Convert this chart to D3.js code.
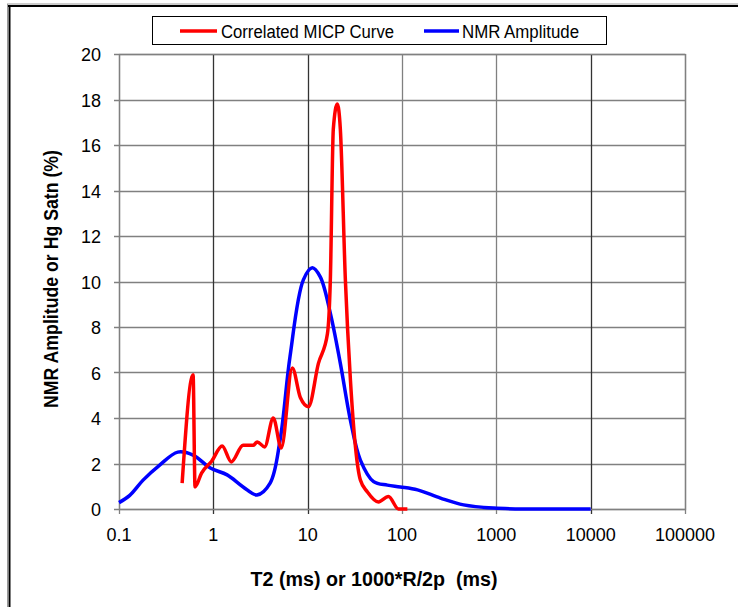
<!DOCTYPE html>
<html>
<head>
<meta charset="utf-8">
<script src="https://cdn.jsdelivr.net/npm/d3@7"></script>
<style>
  body { margin: 0; background: #fff; }
  text { font-family: "Liberation Sans", Arial, sans-serif; }
</style>
</head>
<body>
<svg id="chart" width="738" height="607"></svg>
<script>
// NMR amplitude (blue): T2 in ms, amplitude in %
const nmrT = [0.1, 0.13, 0.18, 0.27, 0.42, 0.61, 0.93, 1.4, 2.07, 2.9, 4.0, 5.1, 6.5, 9.0, 11.2, 13.6, 17.4, 22.2, 28.4, 36.2, 50, 70, 96, 146, 256, 450, 940, 2300, 10000];
const nmrAmp = [0.28, 0.6, 1.27, 1.93, 2.5, 2.37, 1.8, 1.5, 0.97, 0.62, 1.14, 3.03, 6.7, 10.07, 10.6, 10.2, 8.6, 6.4, 3.9, 2.15, 1.2, 1.05, 0.97, 0.84, 0.48, 0.18, 0.04, 0, 0];

// correlated MICP curve (red)
const micpT = [0.467, 0.61, 0.64, 0.75, 0.96, 1.24, 1.55, 2.07, 2.65, 2.92, 3.5, 4.32, 5.25, 6.87, 8.36, 10.2, 13.0, 16.2, 17.4, 18.7, 20.6, 22.2, 25.1, 28.4, 32.1, 36.2, 43, 56.3, 71.9, 91.8, 114];
const micpHg = [1.14, 5.9, 0.97, 1.58, 2.1, 2.77, 2.07, 2.8, 2.8, 2.95, 2.73, 4.0, 2.68, 6.2, 4.9, 4.5, 6.4, 7.7, 10.1, 16.7, 17.8, 16.7, 10.07, 5.67, 2.73, 1.27, 0.75, 0.31, 0.55, 0, 0];

const xTicks = [0.1, 1, 10, 100, 1000, 10000, 100000];
const yTicks = [0, 2, 4, 6, 8, 10, 12, 14, 16, 18, 20];

const svg = d3.select("#chart");

// outer frame
svg.append("line").attr("x1", 7).attr("y1", 4).attr("x2", 738).attr("y2", 4).attr("stroke", "#999").attr("stroke-width", 1);
svg.append("line").attr("x1", 8).attr("y1", 6).attr("x2", 738).attr("y2", 6).attr("stroke", "#000").attr("stroke-width", 2);
svg.append("line").attr("x1", 7.5).attr("y1", 4).attr("x2", 7.5).attr("y2", 607).attr("stroke", "#999").attr("stroke-width", 1);
svg.append("line").attr("x1", 9.5).attr("y1", 6).attr("x2", 9.5).attr("y2", 607).attr("stroke", "#000").attr("stroke-width", 2);

const plotLeft = 119, plotRight = 685, plotTop = 54, plotBottom = 509;

const x = d3.scaleLog().domain([0.1, 100000]).range([plotLeft, plotRight]);
const y = d3.scaleLinear().domain([0, 20]).range([plotBottom, plotTop]);

// grid
svg.append("g").selectAll("line.h")
    .data(yTicks)
    .enter()
    .append("line")
    .attr("x1", plotLeft - 5).attr("x2", plotRight)
    .attr("y1", d => Math.round(y(d)) + 0.5).attr("y2", d => Math.round(y(d)) + 0.5)
    .attr("stroke", "#808080").attr("stroke-width", 1.3);

svg.append("g").selectAll("line.v")
    .data(xTicks)
    .enter()
    .append("line")
    .attr("x1", d => Math.round(x(d)) + 0.5).attr("x2", d => Math.round(x(d)) + 0.5)
    .attr("y1", plotTop).attr("y2", plotBottom + 5)
    .attr("stroke", (d, i) => (i === 1 || i === 2 || i === 5) ? "#333" : "#808080")
    .attr("stroke-width", 1.3);

// plot border
svg.append("rect")
    .attr("x", plotLeft + 0.5).attr("y", plotTop + 0.5)
    .attr("width", plotRight - plotLeft).attr("height", plotBottom - plotTop)
    .attr("fill", "none").attr("stroke", "#808080").attr("stroke-width", 1.3);

// tick labels
svg.append("g").selectAll("text")
    .data(yTicks)
    .enter()
    .append("text")
    .attr("x", 101).attr("y", d => y(d) + 7)
    .attr("text-anchor", "end")
    .attr("font-size", 18)
    .text(d => d);

svg.append("g").selectAll("text")
    .data(xTicks)
    .enter()
    .append("text")
    .attr("x", d => x(d)).attr("y", 541)
    .attr("text-anchor", "middle")
    .attr("font-size", 18)
    .text(d => d);

// titles
svg.append("text")
    .attr("x", 374).attr("y", 586)
    .attr("text-anchor", "middle")
    .attr("font-size", 20).attr("font-weight", "bold")
    .attr("textLength", 247).attr("lengthAdjust", "spacingAndGlyphs")
    .attr("xml:space", "preserve")
    .text("T2 (ms) or 1000*R/2p  (ms)");

svg.append("text")
    .attr("transform", "translate(57.5,279) rotate(-90)")
    .attr("text-anchor", "middle")
    .attr("font-size", 20).attr("font-weight", "bold")
    .attr("textLength", 258).attr("lengthAdjust", "spacingAndGlyphs")
    .text("NMR Amplitude or Hg Satn (%)");

// curves
const blueLine = d3.line()
    .x(d => x(d[0]))
    .y(d => y(d[1]))
    .curve(d3.curveCatmullRom.alpha(0.5));

const redLine = d3.line()
    .x(d => x(d[0]))
    .y(d => y(d[1]))
    .curve(d3.curveMonotoneX);

svg.append("path")
    .attr("d", blueLine(d3.zip(nmrT, nmrAmp)))
    .attr("fill", "none").attr("stroke", "#0000FF").attr("stroke-width", 3.5)
    .attr("stroke-linejoin", "round");

svg.append("path")
    .attr("d", redLine(d3.zip(micpT, micpHg)))
    .attr("fill", "none").attr("stroke", "#FF0000").attr("stroke-width", 3.5)
    .attr("stroke-linejoin", "round");

// legend
const legend = svg.append("g");
legend.append("rect")
    .attr("x", 152.5).attr("y", 16.5).attr("width", 454).attr("height", 28)
    .attr("fill", "#fff").attr("stroke", "#000").attr("stroke-width", 1);
legend.append("line").attr("x1", 180).attr("x2", 217).attr("y1", 31).attr("y2", 31)
    .attr("stroke", "#FF0000").attr("stroke-width", 3.5);
legend.append("text").attr("x", 221).attr("y", 37.5).attr("font-size", 18)
    .attr("textLength", 173).attr("lengthAdjust", "spacingAndGlyphs")
    .text("Correlated MICP Curve");
legend.append("line").attr("x1", 424).attr("x2", 459).attr("y1", 31).attr("y2", 31)
    .attr("stroke", "#0000FF").attr("stroke-width", 3.5);
legend.append("text").attr("x", 462).attr("y", 37.5).attr("font-size", 18)
    .attr("textLength", 117).attr("lengthAdjust", "spacingAndGlyphs")
    .text("NMR Amplitude");
</script>
</body>
</html>
